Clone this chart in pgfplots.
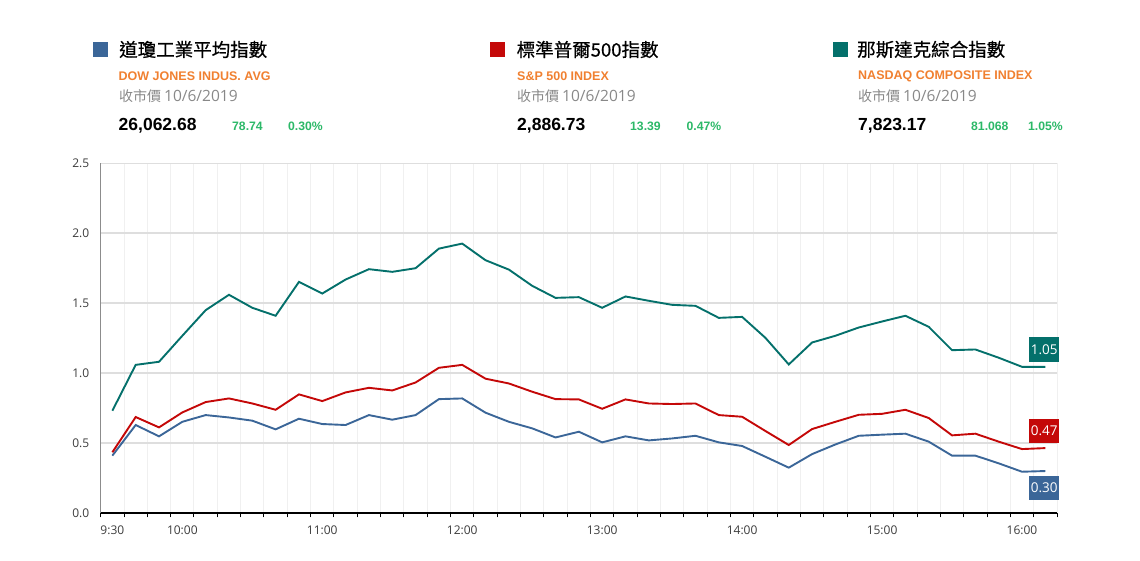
\documentclass[border=0pt]{standalone}
\usepackage{pgfplots}
\pgfplotsset{compat=1.18}
\usepackage{pgfplotstable}
\usepackage{fontspec}
\setmainfont{Open Sans}
\newfontfamily\cjk{Noto Sans CJK TC}
\newfontfamily\cjkt{Noto Sans CJK TC}[FakeBold=0.6]
\newfontfamily\arial{Liberation Sans}
\definecolor{dow}{RGB}{59,102,152}
\definecolor{spx}{RGB}{196,8,8}
\definecolor{nas}{RGB}{4,112,107}
\definecolor{orng}{RGB}{240,128,48}
\definecolor{grn}{RGB}{44,184,104}
\definecolor{gtxt}{RGB}{136,136,136}
\definecolor{ticktxt}{RGB}{60,60,60}

\pgfplotstableread{
idx dow sp nas
0 0.410 0.434 0.731
1 0.629 0.686 1.059
2 0.548 0.612 1.081
3 0.652 0.719 1.267
4 0.700 0.793 1.450
5 0.683 0.819 1.560
6 0.660 0.783 1.467
7 0.598 0.738 1.410
8 0.674 0.848 1.652
9 0.636 0.800 1.569
10 0.629 0.862 1.669
11 0.700 0.895 1.743
12 0.667 0.876 1.724
13 0.700 0.933 1.750
14 0.814 1.038 1.890
15 0.819 1.059 1.926
16 0.717 0.960 1.807
17 0.652 0.926 1.740
18 0.605 0.867 1.624
19 0.540 0.814 1.538
20 0.581 0.812 1.543
21 0.505 0.745 1.467
22 0.548 0.812 1.548
23 0.519 0.783 1.517
24 0.533 0.779 1.488
25 0.552 0.783 1.481
26 0.505 0.700 1.395
27 0.479 0.688 1.402
28 0.402 0.586 1.252
29 0.324 0.486 1.062
30 0.421 0.600 1.219
31 0.490 0.652 1.267
32 0.552 0.702 1.326
33 0.560 0.709 1.369
34 0.567 0.738 1.410
35 0.510 0.679 1.331
36 0.410 0.555 1.164
37 0.410 0.567 1.169
38 0.355 0.510 1.110
39 0.295 0.457 1.045
40 0.300 0.464 1.045
}\data

\newcommand{\titlefont}{\cjkt\fontsize{18.5}{20}\selectfont}
\newcommand{\orfont}{\arial\bfseries\fontsize{12.5}{14}\selectfont}
\newcommand{\closeline}{{\cjk\fontsize{14}{16}\selectfont 收市價}\hspace{3pt}{\fontsize{15.5}{16}\selectfont 10/6/2019}}
\newcommand{\valfont}{\arial\bfseries\fontsize{17.5}{20}\selectfont}
\newcommand{\chgfont}{\arial\bfseries\fontsize{12.2}{14}\selectfont}

\begin{document}
\begin{tikzpicture}[x=1pt,y=1pt]

% ---------- header ----------
\fill[dow] (93,504) rectangle ++(15,15);
\node[anchor=west, inner sep=0] at (119,511.5) {\titlefont 道瓊工業平均指數};
\node[anchor=west, inner sep=0, text=orng] at (118.5,485) {\orfont DOW JONES INDUS. AVG};
\node[anchor=base west, inner sep=0, text=gtxt] at (119,459.5) {\closeline};
\node[anchor=base west, inner sep=0] at (118.5,430) {\valfont 26,062.68};
\node[anchor=base west, inner sep=0, text=grn] at (232,430) {\chgfont 78.74};
\node[anchor=base west, inner sep=0, text=grn] at (288,430) {\chgfont 0.30\%};

\fill[spx] (490,504) rectangle ++(15,15);
\node[anchor=west, inner sep=0] at (516.5,511.5) {\titlefont 標準普爾500指數};
\node[anchor=west, inner sep=0, text=orng] at (517,485) {\orfont S\&P 500 INDEX};
\node[anchor=base west, inner sep=0, text=gtxt] at (517,459.5) {\closeline};
\node[anchor=base west, inner sep=0] at (517,430) {\valfont 2,886.73};
\node[anchor=base west, inner sep=0, text=grn] at (630,430) {\chgfont 13.39};
\node[anchor=base west, inner sep=0, text=grn] at (686.5,430) {\chgfont 0.47\%};

\fill[nas] (833,504) rectangle ++(15,15);
\node[anchor=west, inner sep=0] at (857,511.5) {\titlefont 那斯達克綜合指數};
\node[anchor=west, inner sep=0, text=orng] at (858,485) {\orfont NASDAQ COMPOSITE INDEX};
\node[anchor=base west, inner sep=0, text=gtxt] at (858,459.5) {\closeline};
\node[anchor=base west, inner sep=0] at (858,430) {\valfont 7,823.17};
\node[anchor=base west, inner sep=0, text=grn] at (971,430) {\chgfont 81.068};
\node[anchor=base west, inner sep=0, text=grn] at (1028,430) {\chgfont 1.05\%};

% ---------- chart ----------
\begin{axis}[
  at={(100.7pt,48pt)}, anchor=south west,
  scale only axis, width=956.3pt, height=349.7pt,
  xmin=-0.5, xmax=40.5, ymin=0, ymax=2.5,
  axis lines=left, axis line style={-},
  x axis line style={black, line width=1.2pt},
  y axis line style={gray!90, line width=1.2pt},
  xtick={0,3,9,15,21,27,33,39},
  xticklabels={9:30,10:00,11:00,12:00,13:00,14:00,15:00,16:00},
  minor xtick={-0.5,0.5,...,40.5},
  ytick={0,0.5,1,1.5,2,2.5},
  yticklabel style={/pgf/number format/fixed, /pgf/number format/fixed zerofill, /pgf/number format/precision=1},
  /pgf/number format/assume math mode=true,
  tick align=outside,
  major tick length=0pt, minor tick length=4.5pt,
  minor tick style={black, line width=1pt},
  xminorgrids, ymajorgrids,
  minor grid style={color=black!6, line width=1pt},
  major grid style={color=black!13, line width=1.5pt},
  ticklabel style={font=\fontsize{12}{14}\selectfont, text=ticktxt},
  xticklabel style={yshift=-9pt},
  yticklabel style={xshift=-8pt},
  clip=false,
]
\addplot[dow, line width=1.9pt] table[x=idx, y=dow] {\data};
\addplot[spx, line width=1.9pt] table[x=idx, y=sp] {\data};
\addplot[nas, line width=1.9pt] table[x=idx, y=nas] {\data};
\node[fill=nas, text=white, minimum width=30pt, minimum height=25pt, inner sep=0,
  font=\fontsize{13.5}{15}\selectfont, yshift=17pt] at (axis cs:39.95,1.045) {1.05};
\node[fill=spx, text=white, minimum width=30pt, minimum height=24pt, inner sep=0,
  font=\fontsize{13.5}{15}\selectfont, yshift=17pt] at (axis cs:39.95,0.464) {0.47};
\node[fill=dow, text=white, minimum width=30pt, minimum height=24pt, inner sep=0,
  font=\fontsize{13.5}{15}\selectfont, yshift=-17pt] at (axis cs:39.95,0.300) {0.30};
\end{axis}
\pgfresetboundingbox
\useasboundingbox (0pt,0pt) rectangle (1140pt,561pt);
\end{tikzpicture}
\end{document}
